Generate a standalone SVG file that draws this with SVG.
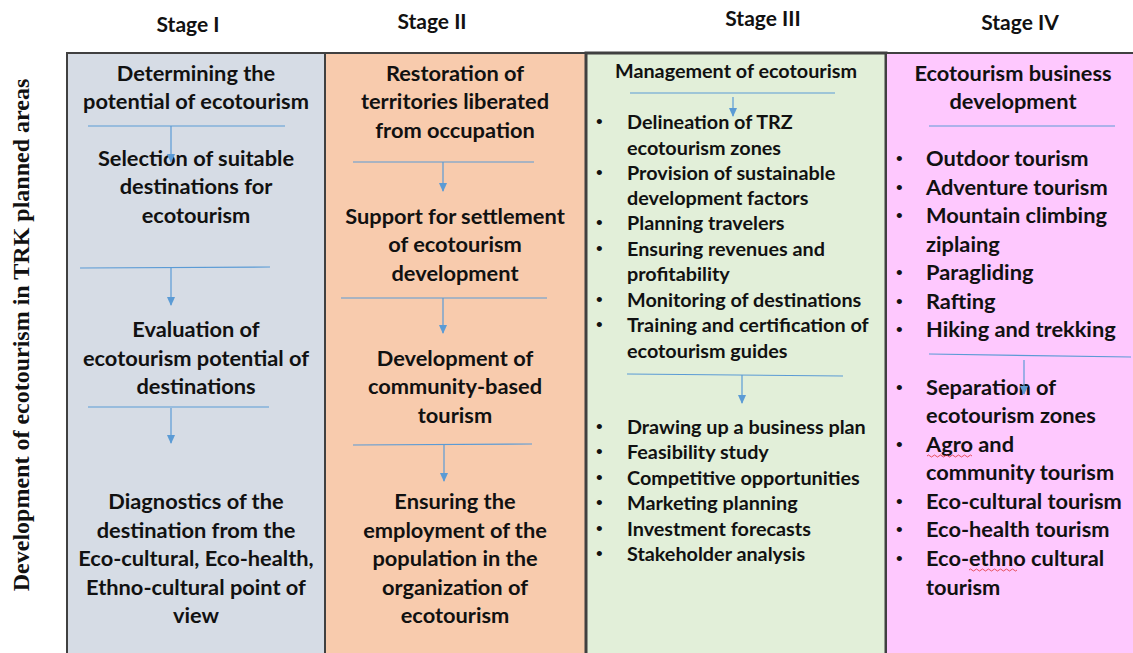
<svg xmlns="http://www.w3.org/2000/svg" width="1133" height="653" viewBox="0 0 1133 653">
<style>
.t{font-family:Lato,"Liberation Sans",sans-serif;font-weight:bold;font-size:21.8px;fill:#111}
.c{text-anchor:middle}
.s3{font-size:19.8px}
.b{font-family:"Liberation Sans",sans-serif;font-size:19px;fill:#111}
.h{font-family:Lato,"Liberation Sans",sans-serif;font-weight:bold;font-size:21px;fill:#111;text-anchor:middle}
.v{font-family:"Liberation Serif",serif;font-weight:bold;font-size:24px;fill:#111;text-anchor:middle}
.ln{stroke:#5b9bd5;stroke-width:1.2;fill:none}
.col{stroke:#404040;stroke-width:2}
</style>
<defs>
<marker id="a" markerWidth="9" markerHeight="8" refX="8" refY="4" orient="auto" markerUnits="userSpaceOnUse">
<path d="M0,0 L9,4 L0,8 Z" fill="#5b9bd5"/>
</marker>
</defs>
<rect width="1133" height="653" fill="#fff"/>

<text class="v" transform="translate(29 335) rotate(-90)">Development of ecotourism in TRK planned areas</text>

<g id="stage1">
<rect class="col" x="67" y="53" width="258" height="602" fill="#d6dce5"/>
<text class="h" x="188" y="32">Stage I</text>
<text class="t c"><tspan x="196" y="81">Determining the</tspan><tspan x="196" y="109">potential of ecotourism</tspan></text>
<text class="t c"><tspan x="196" y="166">Selection of suitable</tspan><tspan x="196" y="194">destinations for</tspan><tspan x="196" y="223">ecotourism</tspan></text>
<text class="t c"><tspan x="196" y="337">Evaluation of</tspan><tspan x="196" y="366">ecotourism potential of</tspan><tspan x="196" y="394">destinations</tspan></text>
<text class="t c"><tspan x="196" y="509">Diagnostics of the</tspan><tspan x="196" y="538">destination from the</tspan><tspan x="196" y="566">Eco-cultural, Eco-health,</tspan><tspan x="196" y="595">Ethno-cultural point of</tspan><tspan x="196" y="623">view</tspan></text>
</g>

<g id="stage2">
<rect class="col" x="325" y="53" width="261" height="602" fill="#f8cbad"/>
<text class="h" x="432" y="29">Stage  II</text>
<text class="t c"><tspan x="455" y="81">Restoration of</tspan><tspan x="455" y="109">territories liberated</tspan><tspan x="455" y="138">from occupation</tspan></text>
<text class="t c"><tspan x="455" y="224">Support for settlement</tspan><tspan x="455" y="252">of ecotourism</tspan><tspan x="455" y="281">development</tspan></text>
<text class="t c"><tspan x="455" y="366">Development of</tspan><tspan x="455" y="394">community-based</tspan><tspan x="455" y="423">tourism</tspan></text>
<text class="t c"><tspan x="455" y="509">Ensuring the</tspan><tspan x="455" y="538">employment of the</tspan><tspan x="455" y="566">population in the</tspan><tspan x="455" y="595">organization of</tspan><tspan x="455" y="623">ecotourism</tspan></text>
</g>

<g id="stage3">
<rect x="586" y="53" width="300" height="602" fill="#e2efd9" stroke="#404040" stroke-width="3"/>
<text class="h" x="763" y="26">Stage III</text>
<text class="t c s3" x="736" y="78">Management of ecotourism</text>
<g class="t s3">
<text x="627" y="129">Delineation of TRZ</text>
<text x="627" y="155">ecotourism zones</text>
<text x="627" y="180">Provision of sustainable</text>
<text x="627" y="205">development factors</text>
<text x="627" y="230">Planning travelers</text>
<text x="627" y="256">Ensuring revenues and</text>
<text x="627" y="281">profitability</text>
<text x="627" y="307">Monitoring of destinations</text>
<text x="627" y="332">Training and certification of</text>
<text x="627" y="358">ecotourism guides</text>
<text x="627" y="434">Drawing up a business plan</text>
<text x="627" y="459">Feasibility study</text>
<text x="627" y="485">Competitive opportunities</text>
<text x="627" y="510">Marketing planning</text>
<text x="627" y="536">Investment forecasts</text>
<text x="627" y="561">Stakeholder analysis</text>
</g>
<g class="b">
<text x="596" y="128">•</text><text x="596" y="179">•</text><text x="596" y="229">•</text><text x="596" y="255">•</text><text x="596" y="306">•</text><text x="596" y="331">•</text>
<text x="596" y="433">•</text><text x="596" y="458">•</text><text x="596" y="484">•</text><text x="596" y="509">•</text><text x="596" y="535">•</text><text x="596" y="560">•</text>
</g>
</g>

<g id="stage4">
<rect class="col" x="886" y="53" width="250" height="602" fill="#fec8fe"/>
<text class="h" x="1020" y="30">Stage IV</text>
<text class="t c"><tspan x="1013" y="81">Ecotourism business</tspan><tspan x="1013" y="109">development</tspan></text>
<g class="t">
<text x="926" y="166">Outdoor tourism</text>
<text x="926" y="195">Adventure tourism</text>
<text x="926" y="223">Mountain climbing</text>
<text x="926" y="252">ziplaing</text>
<text x="926" y="280">Paragliding</text>
<text x="926" y="309">Rafting</text>
<text x="926" y="337">Hiking and trekking</text>
<text x="926" y="395">Separation of</text>
<text x="926" y="423">ecotourism zones</text>
<text x="926" y="452">Agro and</text>
<text x="926" y="480">community tourism</text>
<text x="926" y="509">Eco-cultural tourism</text>
<text x="926" y="537">Eco-health tourism</text>
<text x="926" y="566">Eco-ethno cultural</text>
<text x="926" y="595">tourism</text>
</g>
<g class="b">
<text x="896" y="165">•</text><text x="896" y="194">•</text><text x="896" y="222">•</text><text x="896" y="279">•</text><text x="896" y="308">•</text><text x="896" y="336">•</text>
<text x="896" y="394">•</text><text x="896" y="451">•</text><text x="896" y="508">•</text><text x="896" y="536">•</text><text x="896" y="565">•</text>
</g>
<path d="M927,456 q1.5,-2 3,0 t3,0 t3,0 t3,0 t3,0 t3,0 t3,0 t3,0 t3,0 t3,0 t3,0 t3,0 t3,0 t3,0 t3,0" stroke="#e03030" stroke-width="0.8" fill="none"/>
<path d="M969,570 q1.5,-2 3,0 t3,0 t3,0 t3,0 t3,0 t3,0 t3,0 t3,0 t3,0 t3,0 t3,0 t3,0 t3,0 t3,0 t3,0 t3,0" stroke="#e03030" stroke-width="0.8" fill="none"/>
</g>

<g id="connectors">
<line class="ln" x1="88" y1="126" x2="285" y2="126"/>
<line class="ln" x1="171" y1="126" x2="171" y2="162" marker-end="url(#a)"/>
<line class="ln" x1="80" y1="268" x2="270" y2="267"/>
<line class="ln" x1="171" y1="268" x2="171" y2="305" marker-end="url(#a)"/>
<line class="ln" x1="88" y1="407" x2="269" y2="407"/>
<line class="ln" x1="171" y1="408" x2="171" y2="443" marker-end="url(#a)"/>

<line class="ln" x1="353" y1="162" x2="534" y2="162"/>
<line class="ln" x1="443" y1="162" x2="443" y2="191" marker-end="url(#a)"/>
<line class="ln" x1="341" y1="298" x2="547" y2="298"/>
<line class="ln" x1="443" y1="298" x2="443" y2="333" marker-end="url(#a)"/>
<line class="ln" x1="353" y1="445" x2="532" y2="444"/>
<line class="ln" x1="444" y1="445" x2="444" y2="481" marker-end="url(#a)"/>

<line class="ln" x1="630" y1="93" x2="835" y2="93"/>
<line class="ln" x1="733" y1="97" x2="733" y2="116" marker-end="url(#a)"/>
<line class="ln" x1="627" y1="374" x2="843" y2="376"/>
<line class="ln" x1="742" y1="375" x2="742" y2="403" marker-end="url(#a)"/>

<line class="ln" x1="929" y1="126" x2="1115" y2="126"/>
<line class="ln" x1="929" y1="354" x2="1131" y2="357"/>
<line class="ln" x1="1024" y1="360" x2="1024" y2="394" marker-end="url(#a)"/>
</g>
</svg>
